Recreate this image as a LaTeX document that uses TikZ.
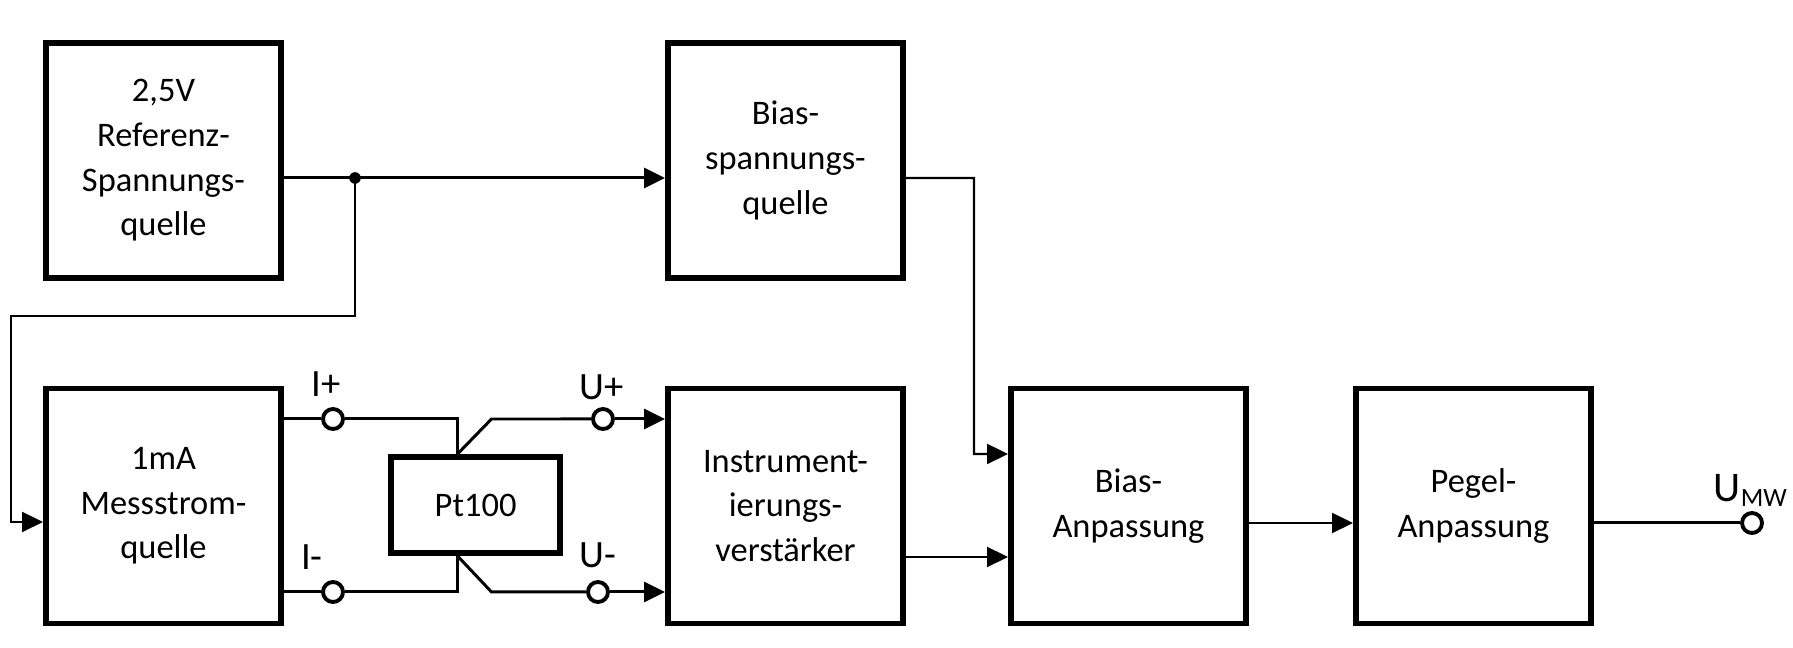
\documentclass[tikz,border=0pt]{standalone}
\usepackage{fontspec}
\setmainfont{Carlito}
\usepackage{tikz}
\usetikzlibrary{
	arrows.meta,
	positioning,
	shapes,
}

\tikzset{
	block/.style={draw, line width=1.7pt, minimum width=2.35cm, minimum height=2.35cm,
		align=center, font=\fontsize{9.8}{12.7}\selectfont},
	wire/.style={line width=0.85pt},
	thinwire/.style={line width=0.6pt},
	arr/.style={-{Triangle[length=0.21cm,width=0.2cm]}},
	term/.style={circle, draw, line width=1.1pt, fill=white, inner sep=0pt, minimum size=0.2cm},
	lbl/.style={font=\fontsize{11}{13}\selectfont},
}

\begin{document}
\begin{tikzpicture}
	\useasboundingbox (0,0) rectangle (17.93,-6.48);

	\node[block] (ref)  at (1.635,-1.605)  {2,5V\\Referenz-\\Spannungs-\\quelle};
	\node[block] (bsq)  at (7.855,-1.605)  {Bias-\\spannungs-\\quelle};
	\node[block] (mess) at (1.635,-5.06)   {1mA\\Messstrom-\\quelle};
	\node[block] (inst) at (7.855,-5.06)   {Instrument-\\ierungs-\\verstärker};
	\node[block] (banp) at (11.285,-5.06)  {Bias-\\Anpassung};
	\node[block] (panp) at (14.735,-5.06)  {Pegel-\\Anpassung};
	\node[draw, line width=1.7pt, minimum width=1.69cm, minimum height=0.96cm,
		font=\fontsize{9.8}{12.7}\selectfont] (pt) at (4.755,-5.05) {Pt100};

	\node[term] (ip)  at (3.33,-4.19) {};
	\node[term] (im)  at (3.33,-5.92) {};
	\node[term] (up)  at (6.03,-4.19) {};
	\node[term] (um)  at (5.98,-5.92) {};
	\node[term] (out) at (17.52,-5.23) {};

	\node[lbl] (ipl) at (3.26,-3.84) {I+};
	\node[lbl] (iml) at (3.12,-5.57) {I-};
	\node[lbl] (upl) at (6.02,-3.87) {U+};
	\node[lbl] (uml) at (5.98,-5.55) {U-};
	\node[anchor=base west, inner sep=0pt] (outl) at (17.13,-5.02)
		{\fontsize{12}{14}\selectfont U\raisebox{-1.4pt}{\fontsize{7.5}{8}\selectfont MW}};

	\coordinate (jn)   at (3.55,-1.78);
	\coordinate (loop) at (0.11,-3.16);
	\coordinate (bx)   at (9.74,-1.78);

	% Referenz
	\draw[wire,arr] ([yshift=-0.175cm]ref.east) -- ([yshift=-0.175cm]bsq.west);
	\fill (jn) circle (0.058);
	\draw[thinwire,arr] (jn) |- (loop) |- ([yshift=-0.16cm]mess.west);

	% Pt100
	\draw[wire] (mess.east |- ip) -- (ip);
	\draw[wire] (ip) -| ([xshift=-0.18cm]pt.north);
	\draw[wire] ([xshift=-0.18cm]pt.north) -- ([xshift=0.16cm,yshift=0.35cm]pt.north) -- (up);
	\draw[wire,arr] (up) -- (up -| inst.west);
	\draw[wire] (mess.east |- im) -- (im);
	\draw[wire] (im) -| ([xshift=-0.18cm]pt.south);
	\draw[wire] ([xshift=-0.18cm]pt.south) -- ([xshift=0.16cm,yshift=-0.36cm]pt.south) -- (um);
	\draw[wire,arr] (um) -- (um -| inst.west);

	% Ausgang
	\draw[thinwire,arr] ([yshift=-0.175cm]bsq.east) -- (bx) |- ([yshift=0.52cm]banp.west);
	\draw[thinwire,arr] ([yshift=-0.51cm]inst.east) -- ([yshift=-0.51cm]banp.west);
	\draw[thinwire,arr] ([yshift=-0.17cm]banp.east) -- ([yshift=-0.17cm]panp.west);
	\draw[wire] ([yshift=-0.17cm]panp.east) -- (out);
\end{tikzpicture}
\end{document}
